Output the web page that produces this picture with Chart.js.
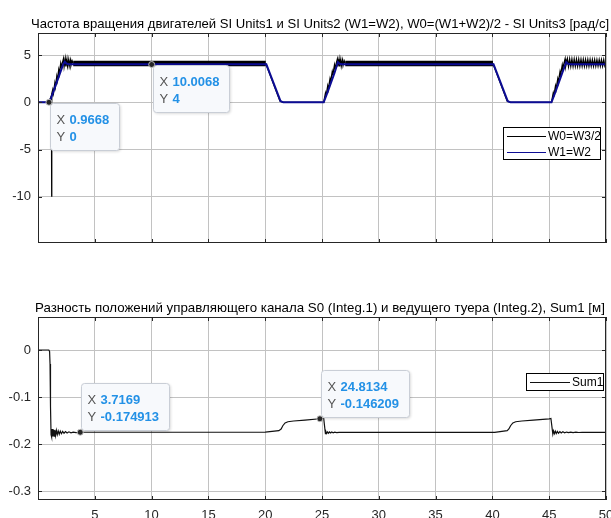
<!DOCTYPE html>
<html>
<head>
<meta charset="utf-8">
<script src="https://cdn.jsdelivr.net/npm/chart.js@4.4.1/dist/chart.umd.min.js"></script>
<style>
  html, body { margin: 0; padding: 0; background: #ffffff; }
  #wrap { position: relative; width: 611px; height: 518px; overflow: hidden; background: #fff; }
  #wrap canvas { position: absolute; left: 0; }
</style>
</head>
<body>
<div id="wrap">
  <canvas id="speed" width="611" height="260" style="top:0px"></canvas>
  <canvas id="diff" width="611" height="258" style="top:260px"></canvas>
</div>
<script>
// ---- Titles and tick values ----
const speedTitle = 'Частота вращения двигателей SI Units1 и SI Units2 (W1=W2), W0=(W1+W2)/2 - SI Units3 [рад/с]';
const diffTitle = 'Разность положений управляющего канала S0 (Integ.1) и ведущего туера (Integ.2), Sum1 [м]';
const xTicks = [5, 10, 15, 20, 25, 30, 35, 40, 45, 50];
const speedTicks = [-10, -5, 0, 5];
const diffTicks = [-0.3, -0.2, -0.1, 0];

// ---- W0 = W3/2 (time, rad/s) ----
const w0X = [0, 0.95, 1.05, 1.18, 1.2, 1.22, 1.3, 1.36, 1.48, 1.53, 1.65, 1.7, 1.82, 1.87, 2.0, 2.05,
  2.25, 2.3, 2.4, 2.45, 2.55, 2.6, 2.7, 2.75, 2.85, 2.9, 3.0, 3.1, 20.05, 21.3, 21.6,
  25.15, 25.3, 25.35, 25.5, 25.55, 25.7, 25.75, 25.9, 25.95, 26.1, 26.15, 26.35, 26.4, 26.5, 26.55,
  26.65, 26.7, 26.8, 26.85, 26.95, 27.05, 40.05, 41.3, 41.6,
  45.2, 45.35, 45.4, 45.55, 45.6, 45.75, 45.8, 45.95, 46.0, 46.15, 46.2, 46.4, 46.45,
  46.6, 46.7, 46.8, 46.9, 47.0, 47.1, 47.2, 47.3, 47.4, 47.5, 47.6, 47.7, 47.8, 47.9, 48.0, 48.1,
  48.2, 48.3, 48.4, 48.5, 48.6, 48.7, 48.8, 48.9, 49.0, 49.1, 49.2, 49.3, 49.4, 49.5, 49.6, 49.7,
  49.8, 49.9, 50];
const w0Y = [0, 0, 0.3, 0.7, -10, 0.9, 1.35, 0.95, 2.0, 1.6, 2.7, 2.3, 3.4, 3.0, 4.1, 3.75,
  4.65, 3.8, 4.6, 3.8, 4.55, 3.85, 4.5, 3.85, 4.45, 3.9, 4.4, 4.11, 4.11, 0.15, 0,
  0, 0.95, 0.6, 1.7, 1.35, 2.45, 2.1, 3.2, 2.85, 3.95, 3.6, 4.55, 3.8, 4.55, 3.8,
  4.5, 3.85, 4.45, 3.9, 4.4, 4.11, 4.11, 0.15, 0,
  0, 0.95, 0.6, 1.7, 1.35, 2.45, 2.1, 3.2, 2.85, 3.95, 3.6, 4.6, 3.8,
  4.6, 3.8, 4.58, 3.8, 4.57, 3.81, 4.56, 3.81, 4.55, 3.82, 4.55, 3.82, 4.54, 3.82, 4.53, 3.83,
  4.53, 3.83, 4.52, 3.83, 4.52, 3.84, 4.51, 3.84, 4.51, 3.84, 4.5, 3.85, 4.5, 3.85, 4.5, 3.85,
  4.5, 3.85, 4.1];

// ---- W1 = W2 (time, rad/s) ----
const w1X = [0, 1.0, 1.3, 1.6, 1.9, 2.2, 2.35, 2.5, 2.7, 20.1, 21.35, 21.6,
  25.15, 25.5, 25.8, 26.1, 26.4, 26.55, 26.75, 40.1, 41.35, 41.6,
  45.2, 45.55, 45.85, 46.15, 46.5, 46.65, 46.85, 50];
const w1Y = [0, 0, 0.95, 1.95, 2.95, 3.95, 4.3, 4.1, 4.02, 4.02, 0.12, 0,
  0, 1.1, 2.1, 3.1, 4.25, 4.08, 4.02, 4.02, 0.12, 0,
  0, 1.1, 2.1, 3.1, 4.25, 4.08, 4.02, 4.02];

// ---- Sum1 (time, m) ----
const sumX = [0, 0.95, 1.02, 1.06, 1.1, 1.15, 1.2, 1.25, 1.3, 1.36, 1.42, 1.48, 1.55, 1.62, 1.7, 1.78,
  1.87, 1.96, 2.06, 2.17, 2.29, 2.42, 2.56, 2.72, 2.9, 3.1, 3.35, 3.7169, 20.0, 21.2, 21.4, 21.55,
  21.75, 22.0, 22.5, 23.5, 24.8134, 25.15, 25.3, 25.35, 25.42, 25.5, 25.58, 25.66, 25.76, 25.86,
  25.98, 26.12, 26.3, 26.5, 40.2, 41.3, 41.45, 41.6, 41.8, 42.05, 42.6, 43.6, 45.0, 45.15, 45.32,
  45.38, 45.46, 45.54, 45.62, 45.72, 45.82, 45.94, 46.06, 46.2, 46.36, 46.52, 46.7, 46.9, 47.1,
  47.35, 47.6, 47.9, 50];
const sumY = [0, 0, -0.003, -0.03, -0.12, -0.18, -0.185, -0.168, -0.184, -0.169, -0.183, -0.17,
  -0.182, -0.171, -0.18, -0.172, -0.179, -0.1725, -0.178, -0.173, -0.177, -0.1735, -0.1765, -0.174,
  -0.176, -0.1745, -0.1755, -0.174913, -0.1745, -0.1715, -0.168, -0.161,
  -0.155, -0.1525, -0.151, -0.149, -0.146209, -0.1455, -0.178, -0.1735, -0.1775, -0.174, -0.177,
  -0.1742, -0.1765, -0.1745, -0.176, -0.1748, -0.1755, -0.175, -0.175, -0.1715, -0.168, -0.161,
  -0.155, -0.1525, -0.151, -0.149, -0.1465, -0.1455, -0.179,
  -0.172, -0.178, -0.1725, -0.1775, -0.173, -0.177, -0.1735, -0.1765, -0.174, -0.176, -0.1745,
  -0.1758, -0.1745, -0.1755, -0.1748, -0.1754, -0.175, -0.175];

// ---- Data tips ----
const speedTipX = [0.9668, 10.0068];
const speedTipY = [0, 4];
const diffTipX = [3.7169, 24.8134];
const diffTipY = [-0.174913, -0.146209];

const FONT = "'Liberation Sans', Arial, sans-serif";
const GRID = '#c2c2c2';
const AXIS = '#262626';

const toPoints = (xs, ys) => xs.map((x, i) => ({ x, y: ys[i] }));

// Axes box with inward ticks on all four sides
const framePlugin = {
  id: 'frame',
  afterDatasetsDraw(chart) {
    const { ctx, chartArea: a, scales } = chart;
    ctx.save();
    ctx.strokeStyle = AXIS;
    ctx.lineWidth = 1;
    ctx.strokeRect(a.left + 0.5, a.top + 0.5, a.right - a.left - 1, a.bottom - a.top - 1);
    ctx.beginPath();
    scales.x.ticks.forEach(t => {
      const px = Math.round(scales.x.getPixelForValue(t.value)) + 0.5;
      ctx.moveTo(px, a.bottom); ctx.lineTo(px, a.bottom - 4);
      ctx.moveTo(px, a.top); ctx.lineTo(px, a.top + 4);
    });
    scales.y.ticks.forEach(t => {
      const py = Math.round(scales.y.getPixelForValue(t.value)) + 0.5;
      ctx.moveTo(a.left, py); ctx.lineTo(a.left + 4, py);
      ctx.moveTo(a.right, py); ctx.lineTo(a.right - 4, py);
    });
    ctx.stroke();
    ctx.restore();
  }
};

// Title drawn above the plot area
function makeTitle(text, size) {
  return {
    id: 'plotTitle',
    afterDraw(chart) {
      const { ctx, chartArea: a } = chart;
      ctx.save();
      ctx.font = size + 'px ' + FONT;
      ctx.fillStyle = '#000';
      ctx.textAlign = 'center';
      ctx.textBaseline = 'alphabetic';
      ctx.fillText(text, (a.left + a.right) / 2 - 2, a.top - 5);
      ctx.restore();
    }
  };
}

// Data tips: marker plus a label box with X / Y readouts
function makeTips(xs, ys, dir) {
  return {
    id: 'dataTips',
    afterDatasetsDraw(chart) {
      const { ctx } = chart;
      const sx = chart.scales.x, sy = chart.scales.y;
      xs.forEach((xv, i) => {
        const yv = ys[i];
        const px = sx.getPixelForValue(xv), py = sy.getPixelForValue(yv);
        const lines = [['X', String(xv)], ['Y', String(yv)]];
        ctx.save();
        ctx.font = 'bold 13px ' + FONT;
        const vw = Math.max(...lines.map(l => ctx.measureText(l[1]).width));
        const w = Math.round(20 + vw + 9), h = 47;
        const left = Math.round(px) + 1.5;
        const top = dir === 'se' ? Math.round(py) + 1.5 : Math.round(py) - 1.5 - h;
        ctx.shadowColor = 'rgba(0,0,0,0.18)';
        ctx.shadowBlur = 3;
        ctx.shadowOffsetX = 1;
        ctx.shadowOffsetY = 1;
        ctx.fillStyle = '#f7f9fc';
        ctx.beginPath();
        ctx.roundRect(left, top, w, h, 3);
        ctx.fill();
        ctx.shadowColor = 'transparent';
        ctx.strokeStyle = '#c9ced6';
        ctx.lineWidth = 1;
        ctx.stroke();
        ctx.textBaseline = 'middle';
        lines.forEach((l, k) => {
          const cy = top + 17 + k * 17;
          ctx.font = '13px ' + FONT;
          ctx.fillStyle = '#555555';
          ctx.fillText(l[0], left + 6, cy);
          ctx.font = 'bold 13px ' + FONT;
          ctx.fillStyle = '#2391e6';
          ctx.fillText(l[1], left + 19, cy);
        });
        // marker
        ctx.beginPath();
        ctx.arc(px, py, 3, 0, Math.PI * 2);
        ctx.fillStyle = '#262626';
        ctx.fill();
        ctx.strokeStyle = 'rgba(200,200,200,0.9)';
        ctx.stroke();
        ctx.restore();
      });
    }
  };
}

// Boxed legend inside the plot area
function makeLegend(cfg) {
  return {
    id: 'boxLegend',
    afterDatasetsDraw(chart) {
      const { ctx, chartArea: a } = chart;
      const right = a.right - cfg.dr, top = a.top + cfg.dt;
      const left = right - cfg.w;
      ctx.save();
      ctx.fillStyle = '#fff';
      ctx.fillRect(left, top, cfg.w, cfg.h);
      ctx.strokeStyle = '#000';
      ctx.lineWidth = 1;
      ctx.strokeRect(left + 0.5, top + 0.5, cfg.w - 1, cfg.h - 1);
      ctx.font = '12px ' + FONT;
      ctx.textBaseline = 'middle';
      cfg.order.forEach((di, k) => {
        const ds = chart.data.datasets[di];
        const cy = Math.round(top + cfg.row0 + k * cfg.rowH) + 0.5;
        ctx.beginPath();
        ctx.moveTo(left + 4, cy);
        ctx.lineTo(left + cfg.lineEnd, cy);
        ctx.strokeStyle = ds.borderColor;
        ctx.lineWidth = 1;
        ctx.stroke();
        ctx.fillStyle = '#000';
        ctx.fillText(ds.label, left + cfg.textX, cy);
      });
      ctx.restore();
    }
  };
}

function xScale(showLabels) {
  return {
    type: 'linear', min: 0, max: 50,
    afterBuildTicks: s => { s.ticks = xTicks.map(v => ({ value: v })); },
    afterFit: s => { s.paddingLeft = 0; s.paddingRight = 0; if (!showLabels) s.height = 0; else s.height = 18; },
    grid: { color: GRID, lineWidth: 1, drawTicks: false },
    border: { display: false },
    ticks: { display: showLabels, padding: 8, color: AXIS, font: { family: FONT, size: 13 }, maxRotation: 0, autoSkip: false, callback: v => String(v) }
  };
}

function yScale(min, max, ticks) {
  return {
    type: 'linear', min, max,
    afterBuildTicks: s => { s.ticks = ticks.map(v => ({ value: v })); },
    afterFit: s => { s.width = 38; s.paddingTop = 0; s.paddingBottom = 0; },
    grid: { color: GRID, lineWidth: 1, drawTicks: false },
    border: { display: false },
    ticks: { padding: 7, color: AXIS, font: { family: FONT, size: 13 }, callback: v => String(v) }
  };
}

const common = {
  responsive: false,
  devicePixelRatio: 1,
  animation: false,
  events: [],
  parsing: true,
  elements: { point: { radius: 0 }, line: { tension: 0 } },
  plugins: { legend: { display: false }, tooltip: { enabled: false }, title: { display: false } }
};

new Chart(document.getElementById('speed'), {
  type: 'line',
  data: {
    datasets: [
      {
        label: 'W0=W3/2', data: toPoints(w0X, w0Y), borderColor: '#000000', order: 2,
        borderWidth: 1.3,
        segment: {
          borderWidth: c => (c.p0.parsed.y === c.p1.parsed.y && c.p0.parsed.y > 2) ? 5.5 : 1.3
        }
      },
      { label: 'W1=W2', data: toPoints(w1X, w1Y), borderColor: '#0c0c94', borderWidth: 2, order: 1 }
    ]
  },
  options: Object.assign({}, common, {
    layout: { padding: { left: 0, right: 5, top: 33, bottom: 17 } },
    scales: { x: xScale(false), y: yScale(-14.88, 7.33, speedTicks) }
  }),
  plugins: [framePlugin, makeTitle(speedTitle, 13.1), makeTips(speedTipX, speedTipY, 'se'),
    makeLegend({ dr: 5, dt: 94, w: 98, h: 33, row0: 9, rowH: 16, lineEnd: 43, textX: 45, order: [0, 1] })]
});

new Chart(document.getElementById('diff'), {
  type: 'line',
  data: {
    datasets: [
      { label: 'Sum1', data: toPoints(sumX, sumY), borderColor: '#111111', borderWidth: 1.2 }
    ]
  },
  options: Object.assign({}, common, {
    layout: { padding: { left: 0, right: 5, top: 57, bottom: 0 } },
    scales: { x: xScale(true), y: yScale(-0.319, 0.0702, diffTicks) }
  }),
  plugins: [framePlugin, makeTitle(diffTitle, 13.3), makeTips(diffTipX, diffTipY, 'ne'),
    makeLegend({ dr: 2, dt: 56, w: 78, h: 18, row0: 9, rowH: 16, lineEnd: 44, textX: 46, order: [0] })]
});
</script>
</body>
</html>
